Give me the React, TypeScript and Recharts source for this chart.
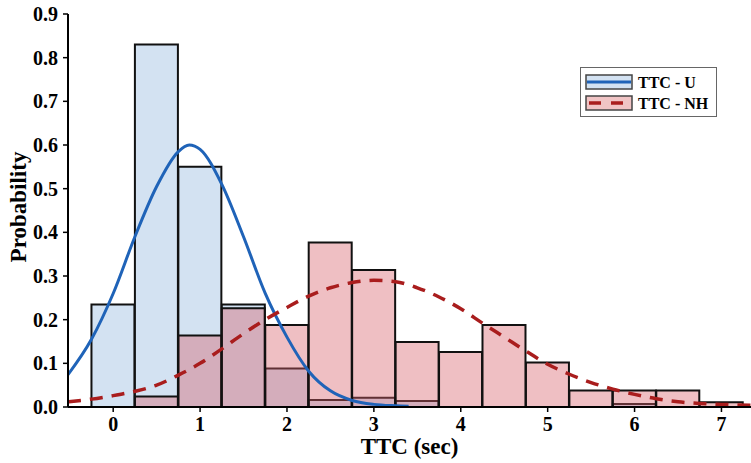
import React from 'react';
import { ComposedChart, Bar, Line, XAxis, YAxis, Legend } from 'recharts';

// Histogram bins (bin centers, width 0.5 sec)
const binCenters = [0, 0.5, 1, 1.5, 2, 2.5, 3, 3.5, 4, 4.5, 5, 5.5, 6, 6.5, 7];
const probU = [0.235, 0.83, 0.55, 0.235, 0.088, 0.016, 0.021, 0.014, null, null, null, null, 0.007, null, null];
const probNH = [null, 0.024, 0.164, 0.226, 0.188, 0.377, 0.314, 0.149, 0.126, 0.188, 0.102, 0.038, 0.038, 0.038, 0.011];

// Fitted curves
const curveUX = [-0.52, -0.25, 0, 0.25, 0.5, 0.75, 0.875, 1.0, 1.25, 1.5, 1.75, 2.0, 2.25, 2.5, 2.75, 3.0, 3.25, 3.4];
const curveUY = [0.074, 0.155, 0.26, 0.39, 0.505, 0.585, 0.6, 0.59, 0.51, 0.39, 0.26, 0.16, 0.082, 0.037, 0.015, 0.006, 0.003, 0.002];
const curveNHX = [-0.52, -0.25, 0, 0.25, 0.5, 0.75, 1.0, 1.25, 1.5, 1.75, 2.0, 2.25, 2.5, 2.75, 3.0, 3.25, 3.5, 3.75, 4.0, 4.25, 4.5, 4.75, 5.0, 5.25, 5.5, 5.75, 6.0, 6.25, 6.5, 6.75, 7.0, 7.34];
const curveNHY = [0.012, 0.018, 0.026, 0.036, 0.05, 0.073, 0.1, 0.133, 0.168, 0.2, 0.228, 0.254, 0.273, 0.285, 0.29, 0.287, 0.273, 0.252, 0.225, 0.192, 0.16, 0.128, 0.098, 0.075, 0.056, 0.041, 0.029, 0.019, 0.012, 0.008, 0.006, 0.004];

const yTicks = [0, 0.1, 0.2, 0.3, 0.4, 0.5, 0.6, 0.7, 0.8, 0.9];
const xTicks = [0, 1, 2, 3, 4, 5, 6, 7];
const seriesNames = ['TTC - U', 'TTC - NH'];

const barData = binCenters.map((x, i) => ({ x, u: probU[i], nh: probNH[i] }));
const uCurve = curveUX.map((x, i) => ({ x, y: curveUY[i] }));
const nhCurve = curveNHX.map((x, i) => ({ x, y: curveNHY[i] }));

const FONT = '"Liberation Serif", "Times New Roman", serif';
const BLUE_FILL = '#d3e2f2';
const RED_FILL = 'rgba(215, 95, 105, 0.4)';
const BLUE_LINE = '#1f63b8';
const RED_LINE = '#a91d1d';

const tickStyle = { fontFamily: FONT, fontWeight: 'bold', fontSize: 20, fill: '#000' };

const renderLegend = () => (
  <div style={{ width: 137, height: 50, border: '1.5px solid #666', background: '#fff', boxSizing: 'border-box' }}>
    <svg width={134} height={47}>
      <rect x={5} y={7} width={46} height={14} fill={BLUE_FILL} stroke="#444" strokeWidth={1.5} />
      <line x1={6} x2={50} y1={14} y2={14} stroke={BLUE_LINE} strokeWidth={3} />
      <rect x={5} y={28} width={46} height={14} fill="#f0c4c5" stroke="#444" strokeWidth={1.5} />
      <line x1={8} x2={50} y1={35} y2={35} stroke={RED_LINE} strokeWidth={3.5} strokeDasharray="12 10" />
      <text x={57} y={20} fontFamily={FONT} fontWeight="bold" fontSize={16} fill="#000">{seriesNames[0]}</text>
      <text x={57} y={41} fontFamily={FONT} fontWeight="bold" fontSize={16} fill="#000">{seriesNames[1]}</text>
    </svg>
  </div>
);

export default function App() {
  return (
    <div style={{ position: 'absolute', left: 0, top: 0, width: 751, height: 463, overflow: 'hidden', background: '#fff' }}>
      <ComposedChart
        width={751}
        height={463}
        data={barData}
        margin={{ top: 14, right: 0, bottom: 0, left: 0 }}
        barGap={-43}
      >
        <XAxis
          xAxisId="bins"
          dataKey="x"
          type="number"
          domain={[-0.52, 7.34]}
          allowDataOverflow
          ticks={xTicks}
          height={56}
          tickSize={5}
          tickMargin={5}
          tick={tickStyle}
          axisLine={{ stroke: '#000', strokeWidth: 2 }}
          tickLine={{ stroke: '#000', strokeWidth: 1.5 }}
          label={{ value: 'TTC (sec)', position: 'insideBottom', offset: 9, style: { fontFamily: FONT, fontWeight: 'bold', fontSize: 23, fill: '#000' } }}
        />
        <XAxis
          xAxisId="curves"
          dataKey="x"
          type="number"
          orientation="top"
          domain={[-0.52, 7.34]}
          allowDataOverflow
          height={0}
          tick={false}
          tickLine={false}
          axisLine={{ stroke: '#000', strokeWidth: 2 }}
        />
        <YAxis
          type="number"
          domain={[0, 0.9]}
          ticks={yTicks}
          width={68}
          tickSize={5}
          tickMargin={5}
          tickFormatter={(v: number) => v.toFixed(1)}
          tick={tickStyle}
          axisLine={{ stroke: '#000', strokeWidth: 2 }}
          tickLine={{ stroke: '#000', strokeWidth: 1.5 }}
          label={{
            content: () => (
              <text x={26} y={207} transform="rotate(-90 26 207)" textAnchor="middle" fontFamily={FONT} fontWeight="bold" fontSize={23} fill="#000">
                Probability
              </text>
            ),
          }}
        />
        <Bar xAxisId="bins" dataKey="u" name={seriesNames[0]} barSize={43} fill={BLUE_FILL} stroke="#111" strokeWidth={2} isAnimationActive={false} />
        <Bar xAxisId="bins" dataKey="nh" name={seriesNames[1]} barSize={43} fill={RED_FILL} stroke="#111" strokeWidth={2} isAnimationActive={false} />
        <Line xAxisId="curves" data={uCurve} dataKey="y" type="monotone" stroke={BLUE_LINE} strokeWidth={3} dot={false} activeDot={false} isAnimationActive={false} />
        <Line xAxisId="curves" data={nhCurve} dataKey="y" type="monotone" stroke={RED_LINE} strokeWidth={3.5} strokeDasharray="13 9" dot={false} activeDot={false} isAnimationActive={false} />
        <Legend
          layout="horizontal"
          verticalAlign="middle"
          align="center"
          content={renderLegend}
          wrapperStyle={{ position: 'absolute', left: 580, top: 67, width: 137, height: 50 }}
        />
      </ComposedChart>
    </div>
  );
}
